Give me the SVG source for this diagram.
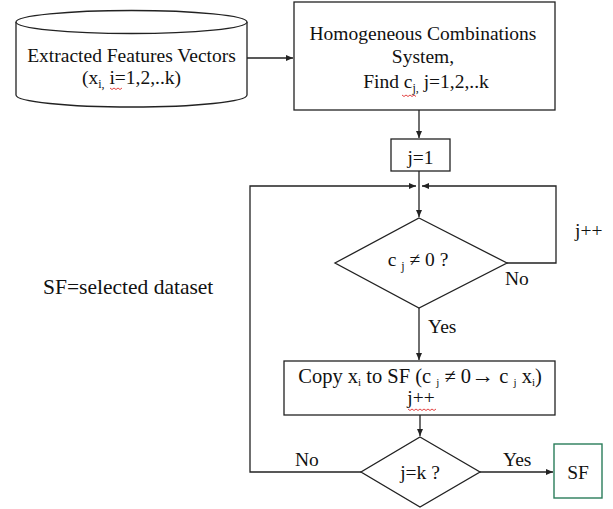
<svg xmlns="http://www.w3.org/2000/svg" width="613" height="509" viewBox="0 0 613 509">
<style>
.t{font-family:"Liberation Serif","Times New Roman",serif;font-size:19.5px;fill:#111}
.s{stroke:#222;stroke-width:1.3;fill:#fff}
.c{stroke:#222;stroke-width:1.3;fill:none}
.sq{stroke:#e03030;stroke-width:0.9;fill:none}
</style>
<defs>
<marker id="ah" markerWidth="7" markerHeight="6" refX="7" refY="3" orient="auto" markerUnits="userSpaceOnUse">
<path d="M0,0 L7,3 L0,6 Z" fill="#222"/>
</marker>
</defs>
<rect width="613" height="509" fill="#fff"/>
<g id="connectors">
<line class="c" x1="247" y1="58" x2="293" y2="58" marker-end="url(#ah)"/>
<line class="c" x1="419" y1="110" x2="419" y2="138" marker-end="url(#ah)"/>
<line class="c" x1="419" y1="171" x2="419" y2="217" marker-end="url(#ah)"/>
<polyline class="c" points="361,472 250,472 250,186 416,186" marker-end="url(#ah)"/>
<polyline class="c" points="507,263 556,263 556,186 422,186" marker-end="url(#ah)"/>
<line class="c" x1="419" y1="308" x2="419" y2="360" marker-end="url(#ah)"/>
<line class="c" x1="420" y1="415" x2="420" y2="436" marker-end="url(#ah)"/>
<line class="c" x1="480" y1="472" x2="553" y2="472" marker-end="url(#ah)"/>
<text class="t" x="428" y="333">Yes</text>
<text class="t" x="505" y="285">No</text>
<text class="t" x="575" y="237">j++</text>
<text class="t" x="295" y="466">No</text>
<text class="t" x="503" y="466">Yes</text>
</g>
<g id="cylinder">
<path class="s" d="M16,22 L16,95 A115.5,12 0 0 0 247,95 L247,22"/>
<ellipse class="s" cx="131.5" cy="22" rx="115.5" ry="11.5"/>
<text class="t" x="131.5" y="62" text-anchor="middle">Extracted Features Vectors</text>
<text class="t" x="131.5" y="84" text-anchor="middle">(x<tspan font-size="12" dy="4">i</tspan><tspan font-size="12">,</tspan><tspan dy="-4"> i=1,2,..k)</tspan></text>
<path class="sq" d="M110,88 l2,1.5 l2,-1.5 l2,1.5 l2,-1.5 l2,1.5 l2,-1.5"/>
</g>
<g id="homogeneous">
<rect class="s" x="294" y="2" width="261" height="108"/>
<text class="t" x="423" y="40" text-anchor="middle">Homogeneous Combinations</text>
<text class="t" x="423" y="63" text-anchor="middle">System,</text>
<text class="t" x="426" y="88" text-anchor="middle">Find c<tspan font-size="12" dy="4">j</tspan><tspan font-size="12">,</tspan><tspan dy="-4"> j=1,2,..k</tspan></text>
<path class="sq" d="M402,95 l2,1.5 l2,-1.5 l2,1.5 l2,-1.5 l2,1.5 l2,-1.5 l2,1.5"/>
</g>
<g id="j1">
<rect class="s" x="391" y="139" width="59" height="32"/>
<text class="t" x="420.5" y="164" text-anchor="middle">j=1</text>
</g>
<g id="decision1">
<polygon class="s" points="419,218 507,263 419,308 335,263"/>
<text class="t" x="418" y="266" text-anchor="middle">c <tspan font-size="12" dy="4">j</tspan><tspan dy="-4"> ≠ 0 ?</tspan></text>
</g>
<g id="sflabel">
<text class="t" x="43" y="294" style="font-size:21.5px">SF=selected dataset</text>
</g>
<g id="copy">
<rect class="s" x="284" y="361" width="271" height="54"/>
<text class="t" x="420" y="383" text-anchor="middle" style="font-size:20.5px">Copy x<tspan font-size="11" dy="2.5">i</tspan><tspan dy="-2.5"> to SF (c </tspan><tspan font-size="11" dy="2.5">j</tspan><tspan dy="-2.5"> ≠ 0</tspan><tspan font-weight="bold" font-size="23">→</tspan><tspan> c </tspan><tspan font-size="11" dy="2.5">j</tspan><tspan dy="-2.5"> x</tspan><tspan font-size="11" dy="2.5">i</tspan><tspan dy="-2.5">)</tspan></text>
<text class="t" x="421" y="404" text-anchor="middle">j++</text>
<path class="sq" d="M408,409 l2,1.5 l2,-1.5 l2,1.5 l2,-1.5 l2,1.5 l2,-1.5 l2,1.5 l2,-1.5 l2,1.5 l2,-1.5 l2,1.5 l2,-1.5 l2,1.5 l2,-1.5"/>
</g>
<g id="decision2">
<polygon class="s" points="420,437 480,472 420,507 361,472"/>
<text class="t" x="420" y="479" text-anchor="middle">j=k ?</text>
</g>
<g id="sf">
<rect x="554" y="444" width="48" height="54" fill="#fff" stroke="#2a7d5a" stroke-width="1.4"/>
<text class="t" x="578" y="479" text-anchor="middle">SF</text>
</g>
</svg>
